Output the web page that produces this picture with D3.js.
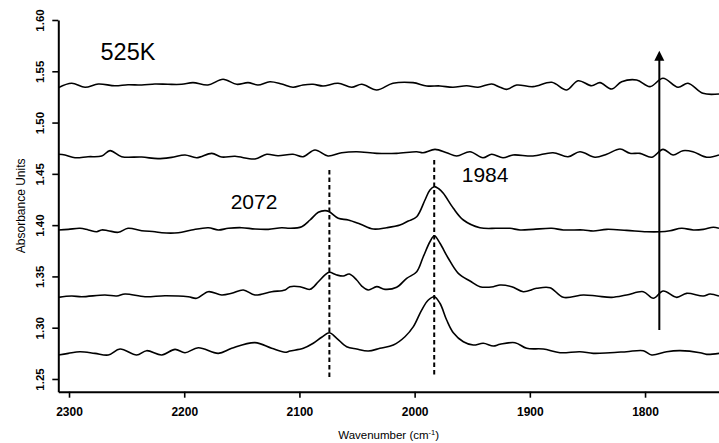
<!DOCTYPE html>
<html>
<head>
<meta charset="utf-8">
<script src="https://cdn.jsdelivr.net/npm/d3@7"></script>
<style>
  html, body { margin: 0; padding: 0; background: #fff; }
  svg { display: block; font-family: "Liberation Sans", Arial, sans-serif; }
</style>
</head>
<body>
<svg id="chart" width="719" height="443"></svg>
<script>
// ---- Data (wavenumber cm-1, absorbance) ----
const xTicks = [2300, 2200, 2100, 2000, 1900, 1800];
const yTicks = [1.25, 1.30, 1.35, 1.40, 1.45, 1.50, 1.55, 1.60];

const series1 = [
  [2309.3,1.2734],[2300.6,1.2750],[2290.5,1.2766],[2277.5,1.2750],[2265.9,1.2734],[2255.7,1.2792],
  [2241.3,1.2734],[2232.6,1.2776],[2219.5,1.2734],[2208.0,1.2789],[2199.3,1.2756],[2187.8,1.2805],
  [2170.4,1.2750],[2158.8,1.2799],[2138.6,1.2854],[2124.1,1.2799],[2112.5,1.2760],[2108.2,1.2773],
  [2096.6,1.2799],[2088.0,1.2848],[2080.7,1.2907],[2074.1,1.2951],[2067.6,1.2897],[2059.0,1.2815],
  [2050.3,1.2792],[2040.2,1.2773],[2030.1,1.2799],[2018.5,1.2831],[2008.4,1.2912],[2001.1,1.3010],
  [1993.9,1.3172],[1988.1,1.3270],[1982.9,1.3302],[1978.0,1.3238],[1972.2,1.3075],[1966.4,1.2951],
  [1957.7,1.2863],[1949.1,1.2831],[1940.4,1.2848],[1931.7,1.2822],[1925.9,1.2838],[1912.9,1.2854],
  [1902.7,1.2799],[1888.3,1.2792],[1873.8,1.2756],[1856.5,1.2766],[1844.9,1.2750],[1830.4,1.2756],
  [1816.0,1.2766],[1801.5,1.2776],[1794.2,1.2734],[1781.2,1.2766],[1769.6,1.2776],[1752.2,1.2756],
  [1746.5,1.2740],[1735.8,1.2750]
];

const series2 = [
  [2309.3,1.3296],[2297.7,1.3309],[2289.0,1.3302],[2268.8,1.3319],[2258.6,1.3309],[2251.4,1.3329],
  [2234.0,1.3302],[2216.7,1.3312],[2196.5,1.3302],[2189.2,1.3287],[2179.1,1.3351],[2167.5,1.3319],
  [2158.8,1.3335],[2148.7,1.3368],[2138.6,1.3319],[2124.1,1.3351],[2112.5,1.3368],[2108.2,1.3400],
  [2099.5,1.3400],[2090.8,1.3374],[2083.6,1.3448],[2077.8,1.3514],[2074.1,1.3540],[2067.6,1.3514],
  [2061.9,1.3504],[2056.7,1.3523],[2050.3,1.3465],[2045.9,1.3406],[2040.2,1.3368],[2032.9,1.3400],
  [2025.7,1.3374],[2015.6,1.3394],[2006.9,1.3481],[1998.2,1.3546],[1992.5,1.3692],[1986.7,1.3838],
  [1982.9,1.3897],[1978.0,1.3823],[1970.8,1.3677],[1962.1,1.3530],[1951.9,1.3455],[1943.3,1.3400],
  [1931.7,1.3400],[1925.9,1.3416],[1915.7,1.3400],[1905.7,1.3351],[1894.0,1.3384],[1882.5,1.3390],
  [1871.0,1.3296],[1853.6,1.3319],[1842.0,1.3309],[1829.0,1.3296],[1816.0,1.3319],[1801.5,1.3351],
  [1792.8,1.3287],[1784.2,1.3358],[1772.5,1.3296],[1763.9,1.3335],[1749.4,1.3309],[1743.6,1.3329],
  [1735.8,1.3309]
];

const series3 = [
  [2309.3,1.3953],[2300.6,1.3959],[2290.5,1.3969],[2283.2,1.3953],[2276.0,1.3936],[2271.6,1.3953],
  [2266.2,1.3946],[2257.2,1.3930],[2248.8,1.3969],[2236.9,1.3946],[2225.4,1.3936],[2219.5,1.3926],
  [2205.1,1.3926],[2193.5,1.3953],[2179.1,1.3975],[2170.4,1.3953],[2161.7,1.3969],[2150.1,1.3975],
  [2138.6,1.3962],[2127.0,1.3959],[2115.4,1.3975],[2108.2,1.3969],[2098.0,1.3985],[2090.8,1.4050],
  [2083.6,1.4125],[2077.8,1.4141],[2074.1,1.4131],[2066.3,1.4067],[2057.6,1.4050],[2047.4,1.4011],
  [2035.9,1.3962],[2024.3,1.3975],[2012.7,1.4001],[2005.5,1.4040],[1998.2,1.4082],[1991.0,1.4245],
  [1986.7,1.4343],[1982.9,1.4375],[1979.3,1.4357],[1975.1,1.4310],[1966.4,1.4164],[1957.7,1.4050],
  [1943.3,1.3975],[1928.8,1.3969],[1917.2,1.3969],[1908.5,1.3953],[1897.0,1.3959],[1881.0,1.3969],
  [1870.9,1.3953],[1853.6,1.3953],[1844.9,1.3943],[1833.3,1.3959],[1816.0,1.3949],[1798.6,1.3936],
  [1787.0,1.3936],[1778.3,1.3946],[1768.2,1.3969],[1758.1,1.3953],[1749.4,1.3959],[1740.7,1.3979],
  [1735.8,1.3969]
];

const series4 = [
  [2309.3,1.4691],[2303.5,1.4684],[2294.8,1.4657],[2283.5,1.4667],[2271.6,1.4674],[2264.4,1.4726],
  [2254.3,1.4667],[2236.9,1.4664],[2222.8,1.4648],[2210.9,1.4661],[2199.3,1.4684],[2189.2,1.4657],
  [2176.1,1.4700],[2167.5,1.4664],[2155.9,1.4671],[2138.6,1.4645],[2128.4,1.4691],[2118.6,1.4677],
  [2105.6,1.4691],[2096.9,1.4667],[2086.5,1.4733],[2075.2,1.4674],[2063.3,1.4706],[2050.3,1.4716],
  [2032.9,1.4700],[2015.6,1.4700],[1998.2,1.4716],[1992.7,1.4706],[1982.3,1.4739],[1972.2,1.4706],
  [1963.5,1.4674],[1951.9,1.4716],[1940.7,1.4657],[1933.1,1.4691],[1923.3,1.4657],[1914.6,1.4684],
  [1897.3,1.4674],[1879.9,1.4706],[1866.9,1.4667],[1856.5,1.4716],[1843.4,1.4662],[1833.3,1.4691],
  [1821.7,1.4742],[1813.1,1.4700],[1804.4,1.4700],[1794.2,1.4662],[1784.4,1.4739],[1775.7,1.4684],
  [1767.1,1.4726],[1758.4,1.4716],[1746.5,1.4662],[1735.8,1.4684]
];

const series5 = [
  [2309.3,1.5340],[2297.7,1.5383],[2286.1,1.5344],[2274.6,1.5376],[2260.1,1.5359],[2248.8,1.5369],
  [2236.9,1.5366],[2225.4,1.5376],[2214.1,1.5373],[2202.2,1.5373],[2192.4,1.5389],[2179.4,1.5366],
  [2166.3,1.5422],[2154.4,1.5373],[2144.6,1.5389],[2136.0,1.5366],[2125.6,1.5398],[2115.4,1.5376],
  [2105.6,1.5344],[2096.9,1.5366],[2088.2,1.5373],[2079.5,1.5357],[2066.5,1.5383],[2054.6,1.5344],
  [2045.9,1.5373],[2032.9,1.5318],[2018.8,1.5383],[2001.4,1.5389],[1989.5,1.5357],[1978.0,1.5357],
  [1966.7,1.5344],[1954.8,1.5359],[1945.0,1.5344],[1933.1,1.5376],[1925.9,1.5344],[1920.1,1.5324],
  [1911.4,1.5366],[1897.3,1.5350],[1881.0,1.5393],[1868.0,1.5318],[1858.2,1.5408],[1846.3,1.5359],
  [1839.1,1.5389],[1829.0,1.5327],[1820.3,1.5398],[1807.3,1.5415],[1795.7,1.5350],[1784.4,1.5432],
  [1771.4,1.5344],[1762.7,1.5383],[1749.7,1.5285],[1735.8,1.5279]
];

const allSeries = [series1, series2, series3, series4, series5];

// annotations (data coordinates)
const peakLines = [ {wn: 2074, top: 1.4538, bottom: 1.2519}, {wn: 1983, top: 1.4635, bottom: 1.2519} ];
const peakLabels = [ {text: "2072", wn: 2159.7, abs: 1.4154}, {text: "1984", wn: 1959.1, abs: 1.4420} ];
const arrowData = {wn: 1787.6, from: 1.2977, to: 1.5700};
const tempLabel = "525K";

// ---- Scales ----
const svg = d3.select("#chart");
const x = d3.scaleLinear().domain([2309.3, 1735.8]).range([58.3, 719]);
const y = d3.scaleLinear().domain([1.2376, 1.60]).range([391.7, 20]);

// ---- Axes ----
const xAxis = svg.append("g")
  .attr("transform", `translate(0,${y(1.2376)})`)
  .call(d3.axisBottom(x).tickValues(xTicks).tickFormat(d3.format("d")).tickSize(6).tickSizeOuter(0));
xAxis.select(".domain").attr("stroke", "#000").attr("stroke-width", 2);
xAxis.selectAll(".tick line").attr("stroke", "#000").attr("stroke-width", 1.6);
xAxis.selectAll(".tick text")
  .attr("y", 24.5).attr("dy", 0)
  .attr("font-size", 12).attr("font-weight", "bold")
  .attr("font-family", "Liberation Sans, Arial, sans-serif").attr("fill", "#000");

const yAxis = svg.append("g")
  .attr("transform", `translate(${x(2309.3)},0)`)
  .call(d3.axisLeft(y).tickValues(yTicks).tickFormat(d3.format(".2f")).tickSize(6).tickSizeOuter(0));
yAxis.select(".domain").attr("stroke", "#000").attr("stroke-width", 2);
yAxis.selectAll(".tick line").attr("stroke", "#000").attr("stroke-width", 1.6);
yAxis.selectAll(".tick text")
  .attr("x", null).attr("dy", null)
  .attr("transform", "translate(-14,0) rotate(-90)")
  .attr("text-anchor", "middle")
  .attr("font-size", 11.5).attr("font-weight", "bold")
  .attr("font-family", "Liberation Sans, Arial, sans-serif").attr("fill", "#000");

// axis titles
svg.append("text")
  .attr("transform", `translate(25,${(y(1.60) + y(1.2376)) / 2}) rotate(-90)`)
  .attr("text-anchor", "middle")
  .attr("font-size", 12)
  .text("Absorbance Units");

const xt = svg.append("text")
  .attr("x", (x(2309.3) + x(1735.8)) / 2)
  .attr("y", 439)
  .attr("text-anchor", "middle")
  .attr("font-size", 11.5);
xt.append("tspan").text("Wavenumber (cm");
xt.append("tspan").attr("font-size", 7.5).attr("dy", -4).text("-1");
xt.append("tspan").attr("dy", 4).text(")");

// ---- Spectra ----
const line = d3.line()
  .x(d => x(d[0]))
  .y(d => y(d[1]))
  .curve(d3.curveCatmullRom.alpha(0.5));

svg.append("g").selectAll("path")
  .data(allSeries)
  .join("path")
  .attr("d", line)
  .attr("fill", "none")
  .attr("stroke", "#000")
  .attr("stroke-width", 1.6)
  .attr("stroke-linejoin", "round");

// ---- Dashed peak lines ----
svg.append("g").selectAll("line")
  .data(peakLines)
  .join("line")
  .attr("x1", d => x(d.wn)).attr("x2", d => x(d.wn))
  .attr("y1", d => y(d.top)).attr("y2", d => y(d.bottom))
  .attr("stroke", "#000")
  .attr("stroke-width", 2)
  .attr("stroke-dasharray", "4.5,3");

// peak labels
svg.append("g").selectAll("text")
  .data(peakLabels)
  .join("text")
  .attr("x", d => x(d.wn)).attr("y", d => y(d.abs))
  .attr("font-size", 21)
  .attr("fill", "#000")
  .text(d => d.text);

// temperature label
svg.append("text")
  .attr("x", 100.5).attr("y", 60)
  .attr("font-size", 23.5)
  .attr("fill", "#000")
  .text(tempLabel);

// ---- Arrow ----
const ax = x(arrowData.wn);
const aTop = y(arrowData.to);
svg.append("line")
  .attr("x1", ax).attr("x2", ax)
  .attr("y1", y(arrowData.from)).attr("y2", aTop + 8)
  .attr("stroke", "#000").attr("stroke-width", 2);
svg.append("path")
  .attr("d", `M${ax},${aTop} L${ax - 5},${aTop + 10} L${ax + 5},${aTop + 10} Z`)
  .attr("fill", "#000");
</script>
</body>
</html>
